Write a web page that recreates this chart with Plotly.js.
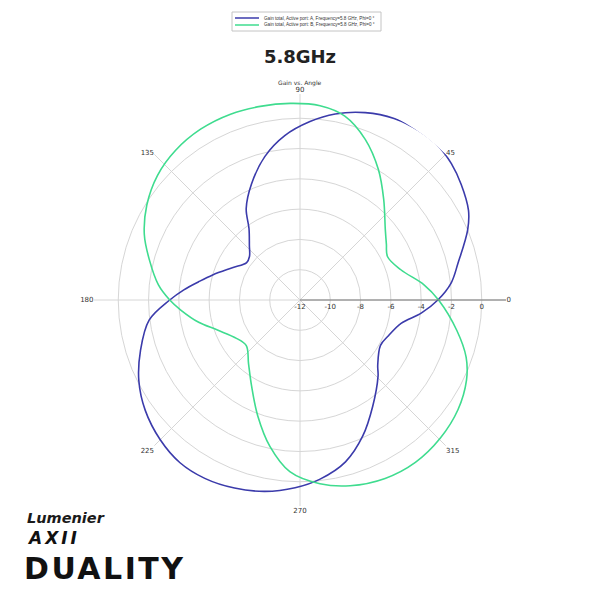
<!DOCTYPE html>
<html>
<head>
<meta charset="utf-8">
<script src="https://cdn.plot.ly/plotly-3.0.1.min.js"></script>
<style>html,body{margin:0;padding:0;background:#fff;}#chart{width:600px;height:600px;}</style>
</head>
<body>
<div id="chart"></div>
<script>
// Port A (blue) gain pattern, dB vs angle (deg)
const thetaA = [0,6.5,13,22.7,28,35.7,42,47.5,55,62.6,70.8,79.3,86.8,95.3,103.8,112.7,120.5,125.5,133,139.3,145,154.5,164,169.8,175,180,187.6,197.6,206.6,215.5,225,233.6,241.9,250.8,259.6,268.5,276.4,285.7,294.7,304.4,315.7,320,330.6,338,347,353.8,360];
const gainA  = [-2.9,-1.95,-1.3,0.0,0.6,1.1,1.45,1.65,1.65,1.5,1.1,0.5,-0.2,-1.1,-2.25,-3.7,-5.0,-6.2,-7.1,-7.6,-7.7,-7.05,-6.0,-5.2,-4.3,-3.4,-1.95,-0.95,-0.1,0.55,1.05,1.35,1.35,1.15,0.85,0.4,-0.1,-0.9,-2.1,-3.5,-4.8,-5.3,-5.9,-5.7,-5.15,-3.95,-2.9];
// Port B (green) gain pattern
const thetaB = [0,7,16.7,26.3,33,39.5,50.3,59,67.9,76.3,84.1,92.9,101.6,110.5,120.2,129.8,138.8,148.2,157.2,165,173.9,180,184.8,192.4,200,211.1,220.3,231,240.5,250,258.3,266.6,276.2,285.1,295.5,305.4,315.4,325.2,334.3,341,349,360];
const gainB  = [-2.85,-3.75,-5.05,-5.55,-5.2,-4.7,-3.35,-1.95,-0.55,0.5,0.9,1.0,1.05,1.1,1.05,0.85,0.5,-0.1,-0.85,-1.7,-2.6,-3.4,-4.1,-5.15,-6.2,-7.1,-7.35,-6.6,-5.5,-3.85,-2.15,-0.65,0.2,0.7,1.05,1.15,1.0,0.7,0.2,-0.4,-1.45,-2.85];

const nameA = "Gain total, Active port: A, Frequency=5.8 GHz, Phi=0 °";
const nameB = "Gain total, Active port: B, Frequency=5.8 GHz, Phi=0 °";
const colorA = '#3b3bab';
const colorB = '#3fdc8f';
const radialTicks = [-12,-10,-8,-6,-4,-2,0];
const radialTickText = ['-12','-10','-8','-6','-4','-2','0'];
const angleTicks = [0,45,90,135,180,225,270,315];

const traces = [
  {type:'scatterpolar', mode:'lines', r:gainA, theta:thetaA, name:nameA,
   line:{color:colorA, width:1.6, shape:'spline', smoothing:1}, cliponaxis:false},
  {type:'scatterpolar', mode:'lines', r:gainB, theta:thetaB, name:nameB,
   line:{color:colorB, width:1.6, shape:'spline', smoothing:1}, cliponaxis:false}
];

const px = v => v/600;
const legendFont = {size:4.6, family:'Liberation Sans', color:'#333'};

const layout = {
  width:600, height:600,
  margin:{l:0,r:0,t:0,b:0},
  paper_bgcolor:'#fff',
  showlegend:false,
  title:{text:'<b>5.8GHz</b>', x:0.5, xanchor:'center', y:1-px(57), yanchor:'middle',
    font:{size:18, family:'DejaVu Sans', color:'#222'}},
  polar:{
    domain:{x:[0.1567,0.8433], y:[0.1567,0.8433]},
    bgcolor:'rgba(0,0,0,0)',
    radialaxis:{range:[-12,1.6], tickvals:radialTicks, ticktext:radialTickText, angle:0, side:'clockwise',
      showline:true, linecolor:'#777', linewidth:1, gridcolor:'#d6d6d6', gridwidth:1,
      ticks:'', tickfont:{size:7, family:'DejaVu Sans', color:'#333'}},
    angularaxis:{tickvals:angleTicks, direction:'counterclockwise', rotation:0,
      showline:false, gridcolor:'#d6d6d6', gridwidth:1, ticks:'',
      tickfont:{size:7, family:'DejaVu Sans', color:'#333'}}
  },
  shapes:[
    {type:'rect', xref:'paper', yref:'paper', x0:px(232), x1:px(381), y0:1-px(31), y1:1-px(12),
     line:{color:'#c4c4c4', width:1}, fillcolor:'#fff'},
    {type:'line', xref:'paper', yref:'paper', x0:px(235), x1:px(259), y0:1-px(18), y1:1-px(18),
     line:{color:colorA, width:1.5}},
    {type:'line', xref:'paper', yref:'paper', x0:px(235), x1:px(259), y0:1-px(25), y1:1-px(25),
     line:{color:colorB, width:1.5}}
  ],
  annotations:[
    {text:nameA, xref:'paper', yref:'paper', x:px(262), y:1-px(18), showarrow:false,
     font:legendFont, xanchor:'left', yanchor:'middle'},
    {text:nameB, xref:'paper', yref:'paper', x:px(262), y:1-px(25), showarrow:false,
     font:legendFont, xanchor:'left', yanchor:'middle'},
    {text:'Gain vs. Angle', xref:'paper', yref:'paper', x:0.5, y:1-px(83), showarrow:false,
     font:{size:6, family:'DejaVu Sans', color:'#333'}, xanchor:'center', yanchor:'middle'},
    {text:'<b><i>Lumenier</i></b>', xref:'paper', yref:'paper', x:px(26), y:1-px(518), showarrow:false,
     font:{size:14.5, family:'DejaVu Sans', color:'#1a1a1a'}, xanchor:'left', yanchor:'middle', borderpad:0},
    {text:'<b><i><span style="letter-spacing:3px">AXII</span></i></b>', xref:'paper', yref:'paper', x:px(26), y:1-px(538), showarrow:false,
     font:{size:17, family:'DejaVu Sans', color:'#111'}, xanchor:'left', yanchor:'middle', borderpad:0},
    {text:'<b><span style="letter-spacing:2.5px">DUALITY</span></b>', xref:'paper', yref:'paper', x:px(23), y:1-px(568), showarrow:false,
     font:{size:30, family:'DejaVu Sans', color:'#111'}, xanchor:'left', yanchor:'middle', borderpad:0}
  ]
};

Plotly.newPlot('chart', traces, layout, {displayModeBar:false, staticPlot:true});
</script>
</body>
</html>
